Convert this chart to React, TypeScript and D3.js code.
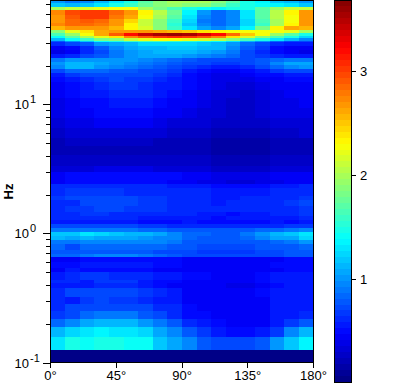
import React from "react";
import * as d3 from "d3";

const W = 418, H = 383;

// Angle columns (degrees, left edges) and tick labels
const angleEdges = [0,10,20,30,40,50,60,70,80,90,100,110,120,130,140,150,160,170,180];
const angleTicks = [0,45,90,135,180];
const colorTicks = [1,2,3];
const decadeTicks = [0.1,1,10];
const minorTicks = [0.2,0.3,0.4,0.5,0.6,0.7,0.8,0.9,2,3,4,5,6,7,8,9,20,30,40,50,60];
const valueRange = [0.01,3.68];

// Frequency band edges, log10(Hz), from top to bottom
const bandEdges = [1.806,1.786,1.755,1.732,1.693,1.662,1.631,1.608,1.577,1.554,1.531,1.515,1.495,1.484,1.453,1.422,1.391,1.36,1.329,1.306,1.275,1.244,1.213,1.174,1.112,1.05,0.973,0.895,0.818,0.741,0.679,0.609,0.524,0.477,0.415,0.384,0.353,0.291,0.26,0.214,0.167,0.136,0.105,0.074,0.043,0.012,-0.019,-0.05,-0.081,-0.127,-0.158,-0.181,-0.22,-0.266,-0.297,-0.359,-0.383,-0.421,-0.491,-0.545,-0.6,-0.661,-0.723,-0.801,-0.902,-1];

// One row per band, one value per angle column
const power = [
[1.0,.9,.95,1.1,1.3,1.5,1.7,1.85,2.0,2.0,2.0,1.9,1.7,1.5,1.35,1.2,1.1,1.0],
[1.2,1.1,1.2,1.3,1.45,1.6,1.75,1.85,1.95,1.9,1.85,1.75,1.6,1.45,1.4,1.35,1.3,1.2],
[2.0,2.1,2.15,2.2,2.3,2.25,2.0,1.8,1.65,1.5,1.4,1.35,1.45,1.5,1.7,1.95,2.1,2.1],
[2.75,2.95,3.0,3.0,2.85,2.65,2.35,2.05,1.75,1.35,1.0,.85,.95,1.3,1.7,2.05,2.35,2.7],
[2.7,2.9,3.0,3.0,2.8,2.6,2.3,2.0,1.7,1.3,.95,.85,.95,1.3,1.7,2.05,2.3,2.65],
[2.7,2.85,2.9,2.85,2.7,2.45,2.1,1.9,1.6,1.25,.9,.85,.95,1.25,1.65,2.0,2.3,2.7],
[2.75,2.85,2.85,2.8,2.65,2.35,2.1,1.85,1.55,1.2,.95,.85,.95,1.25,1.6,2.0,2.35,2.7],
[2.55,2.7,2.7,2.7,2.55,2.35,2.15,1.9,1.6,1.3,1.05,.95,1.05,1.35,1.8,2.35,2.6,2.55],
[1.9,2.2,2.4,2.6,2.7,2.7,2.65,2.6,2.55,2.5,2.4,2.35,2.3,2.3,2.3,2.3,2.2,2.0],
[1.65,1.95,2.3,2.6,2.88,3.2,3.4,3.55,3.62,3.55,3.38,3.2,2.85,2.5,2.3,1.95,1.7,1.5],
[1.4,1.7,2.0,2.2,2.4,2.75,2.9,3.0,3.05,3.0,2.9,2.75,2.4,2.15,1.9,1.65,1.45,1.25],
[1.15,1.4,1.6,1.8,1.9,2.1,2.2,2.25,2.25,2.2,2.15,2.05,1.85,1.65,1.5,1.3,1.1,.95],
[.8,1.0,1.2,1.4,1.5,1.6,1.65,1.65,1.6,1.55,1.5,1.4,1.3,1.1,1.0,.85,.7,.7],
[.6,.7,.8,1.0,1.05,1.15,1.25,1.25,1.25,1.25,1.2,1.15,1.0,.85,.7,.6,.55,.55],
[.42,.5,.6,.8,.95,1.05,1.1,1.15,1.2,1.2,1.15,1.1,.95,.8,.65,.5,.45,.42],
[.4,.42,.6,.75,.9,1.0,1.05,1.1,1.15,1.15,1.05,1.0,.9,.75,.62,.5,.42,.4],
[.55,.6,.7,.8,.92,1.0,1.05,1.05,1.05,1.0,.95,.9,.85,.75,.65,.6,.55,.55],
[.9,1.0,1.0,1.0,1.0,1.0,.95,.9,.85,.8,.75,.75,.75,.75,.8,.85,.9,.9],
[1.0,1.15,1.1,1.05,1.0,.95,.9,.85,.8,.7,.7,.65,.65,.7,.8,.95,1.05,1.05],
[.95,1.1,1.1,1.0,.95,.9,.85,.8,.72,.65,.6,.55,.55,.6,.7,.85,.95,1.0],
[.7,.85,.85,.85,.8,.8,.75,.7,.66,.56,.5,.45,.45,.5,.55,.65,.7,.7],
[.58,.66,.7,.75,.75,.72,.7,.66,.6,.52,.46,.4,.38,.42,.48,.52,.56,.56],
[.5,.58,.62,.68,.7,.68,.66,.62,.56,.5,.44,.38,.36,.38,.42,.46,.5,.5],
[.46,.52,.56,.62,.66,.66,.62,.58,.54,.48,.42,.36,.33,.33,.36,.42,.46,.46],
[.44,.5,.54,.58,.62,.62,.6,.55,.5,.46,.4,.34,.3,.29,.33,.4,.44,.46],
[.4,.46,.5,.52,.56,.56,.54,.5,.46,.42,.38,.32,.28,.26,.3,.37,.4,.42],
[.37,.43,.46,.48,.5,.5,.47,.44,.42,.38,.34,.3,.26,.26,.3,.36,.38,.4],
[.33,.38,.41,.43,.43,.43,.42,.38,.35,.33,.31,.26,.24,.25,.27,.33,.34,.35],
[.28,.31,.33,.33,.33,.33,.32,.31,.29,.27,.25,.22,.2,.2,.22,.26,.28,.3],
[.22,.25,.25,.25,.25,.25,.25,.23,.23,.22,.2,.17,.16,.16,.17,.2,.22,.22],
[.22,.22,.22,.22,.22,.22,.22,.22,.21,.2,.19,.17,.16,.16,.17,.2,.22,.22],
[.26,.26,.26,.26,.26,.26,.26,.26,.26,.26,.26,.22,.2,.2,.22,.24,.26,.26],
[.33,.34,.34,.36,.36,.36,.36,.34,.34,.32,.32,.28,.26,.26,.28,.32,.32,.32],
[.44,.47,.49,.49,.49,.49,.49,.47,.47,.44,.44,.4,.38,.38,.4,.44,.44,.44],
[.44,.47,.49,.49,.49,.49,.47,.47,.45,.42,.4,.37,.35,.35,.37,.4,.42,.44],
[.6,.62,.62,.62,.62,.62,.6,.6,.57,.57,.54,.52,.5,.5,.52,.54,.57,.6],
[.64,.67,.67,.67,.67,.64,.64,.62,.64,.62,.6,.58,.58,.58,.58,.6,.62,.64],
[.66,.72,.72,.72,.72,.7,.68,.66,.64,.64,.6,.58,.58,.6,.6,.62,.64,.66],
[.64,.64,.7,.72,.72,.7,.68,.66,.62,.64,.62,.58,.6,.6,.62,.64,.66,.7],
[.64,.68,.68,.7,.7,.68,.66,.66,.64,.64,.62,.62,.6,.62,.64,.64,.64,.66],
[.62,.64,.66,.66,.64,.62,.64,.62,.6,.62,.58,.54,.52,.55,.58,.6,.62,.66],
[.64,.64,.62,.6,.6,.6,.58,.58,.55,.58,.54,.52,.54,.54,.58,.58,.58,.62],
[.54,.58,.54,.54,.54,.54,.52,.52,.5,.54,.5,.48,.48,.5,.5,.54,.52,.54],
[.74,.74,.74,.72,.72,.72,.68,.66,.6,.64,.64,.64,.62,.62,.64,.64,.66,.68],
[.9,.9,.9,.9,.88,.88,.85,.85,.8,.8,.76,.76,.76,.8,.85,.85,.9,.95],
[1.2,1.2,1.28,1.25,1.18,1.15,1.12,1.05,.98,.85,.82,.8,.8,.9,1.02,1.1,1.18,1.28],
[1.1,1.05,1.12,1.08,1.08,1.05,1.0,.98,.93,.85,.8,.78,.8,.85,.95,1.05,1.08,1.22],
[.9,.9,.98,.98,.95,.95,.93,.93,.88,.8,.8,.76,.76,.8,.8,.85,.9,1.0],
[.82,.75,.86,.86,.85,.82,.82,.82,.8,.76,.74,.72,.72,.75,.76,.8,.8,.85],
[.8,.78,.8,.8,.78,.78,.76,.74,.72,.72,.68,.65,.66,.68,.72,.72,.76,.78],
[.85,.85,.9,.93,.93,.93,.9,.85,.76,.72,.72,.72,.75,.75,.75,.72,.78,.8],
[.44,.42,.52,.52,.52,.52,.52,.52,.5,.45,.44,.42,.42,.42,.44,.45,.48,.48],
[.52,.52,.57,.57,.57,.57,.54,.52,.5,.46,.46,.44,.44,.44,.46,.48,.52,.52],
[.44,.56,.5,.5,.5,.5,.48,.46,.44,.44,.44,.42,.42,.42,.44,.46,.48,.48],
[.58,.62,.66,.66,.64,.62,.6,.56,.54,.48,.47,.45,.44,.45,.47,.54,.56,.56],
[.62,.62,.58,.66,.66,.66,.58,.5,.5,.45,.44,.44,.44,.44,.47,.54,.58,.58],
[.58,.54,.58,.62,.62,.62,.54,.5,.46,.44,.42,.42,.4,.4,.42,.47,.54,.54],
[.62,.7,.7,.7,.7,.72,.66,.62,.54,.46,.44,.44,.44,.44,.47,.54,.58,.58],
[.62,.58,.66,.7,.66,.66,.62,.58,.54,.46,.45,.45,.44,.44,.46,.54,.54,.58],
[.62,.7,.7,.72,.72,.72,.7,.64,.62,.47,.45,.42,.42,.42,.44,.54,.58,.58],
[.66,.75,.85,.88,.88,.88,.8,.75,.64,.5,.47,.45,.42,.42,.44,.54,.58,.64],
[.85,.95,1.05,1.1,1.1,1.1,1.0,.9,.76,.62,.58,.5,.44,.43,.45,.55,.68,.76],
[1.15,1.25,1.3,1.36,1.32,1.28,1.22,1.08,.95,.76,.66,.58,.5,.5,.55,.68,.95,1.1],
[1.3,1.45,1.42,1.5,1.5,1.42,1.4,1.2,1.05,.95,.8,.75,.75,.75,.8,1.0,1.2,1.35],
[.01,.01,.01,.01,.01,.01,.01,.01,.01,.01,.01,.01,.01,.01,.01,.01,.01,.01],
];

// 64-level jet
const jet = (t: number) => {
  const c = (v: number) => Math.round(255 * Math.max(0, Math.min(1, v)));
  return `rgb(${c(1.5 - Math.abs(4 * t - 3))},${c(1.5 - Math.abs(4 * t - 2))},${c(1.5 - Math.abs(4 * t - 1))})`;
};
const levels = d3.range(64);
const level = d3.scaleQuantize<number>().domain(valueRange).range(levels);
const levelColor = (i: number) => jet((i + 0.5) / 64);

const x = d3.scaleLinear().domain([0, 180]).range([50.5, 313.5]);
const y = d3.scaleLog().domain([0.1, Math.pow(10, 1.806)]).range([362.5, 0.5]);
const cbY = d3.scaleLinear().domain(valueRange).range([382, 0.5]);
const CB_L = 334.5, CB_R = 351.5;
const font = "'Liberation Sans', Arial, sans-serif";

export default function App() {
  return (
    <svg width={W} height={H} style={{ position: "absolute", left: 0, top: 0, background: "#fff" }} fontFamily={font} fontSize={13} fill="#000">
      <g shapeRendering="crispEdges">
        {power.map((row, r) =>
          row.map((v, c) => {
            const x0 = Math.round(x(angleEdges[c]));
            const x1 = Math.round(x(angleEdges[c + 1]));
            const y0 = Math.round(y(Math.pow(10, bandEdges[r])));
            const y1 = Math.round(y(Math.pow(10, bandEdges[r + 1])));
            return <rect key={`${r}-${c}`} x={x0} y={y0} width={x1 - x0} height={y1 - y0} fill={levelColor(level(v))} />;
          })
        )}
        <rect x={x(0)} y={0.5} width={x(180) - x(0)} height={362} fill="none" stroke="#000" />
        {angleTicks.map(t => <line key={t} x1={x(t)} x2={x(t)} y1={362.5} y2={367.5} stroke="#000" />)}
        {decadeTicks.map(t => <line key={t} x1={42.5} x2={50.5} y1={Math.round(y(t)) + 0.5} y2={Math.round(y(t)) + 0.5} stroke="#000" />)}
        {minorTicks.map(t => <line key={t} x1={45.5} x2={50.5} y1={Math.round(y(t)) + 0.5} y2={Math.round(y(t)) + 0.5} stroke="#000" />)}
        {levels.map(i => {
          const step = (valueRange[1] - valueRange[0]) / 64;
          const y0 = Math.round(cbY(valueRange[0] + (i + 1) * step));
          const y1 = Math.round(cbY(valueRange[0] + i * step));
          return <rect key={i} x={CB_L} y={y0} width={CB_R - CB_L} height={y1 - y0} fill={levelColor(i)} />;
        })}
        <rect x={CB_L} y={0.5} width={CB_R - CB_L} height={381.5} fill="none" stroke="#000" />
        {colorTicks.map(t => <line key={t} x1={CB_R} x2={CB_R + 4} y1={Math.round(cbY(t)) + 0.5} y2={Math.round(cbY(t)) + 0.5} stroke="#000" />)}
      </g>
      {angleTicks.map(t => (
        <text key={t} x={x(t)} y={380} textAnchor="middle">{t}°</text>
      ))}
      {decadeTicks.map(t => (
        <g key={t}>
          <text x={29} y={Math.round(y(t)) + 5} textAnchor="end">10</text>
          <text x={30} y={Math.round(y(t)) - 1} fontSize={11}>{Math.round(Math.log10(t))}</text>
        </g>
      ))}
      {colorTicks.map(t => (
        <text key={t} x={360} y={Math.round(cbY(t)) + 5}>{t}</text>
      ))}
      <text transform="translate(13,191.5) rotate(-90)" textAnchor="middle" fontWeight="bold" fontSize={13}>Hz</text>
    </svg>
  );
}
